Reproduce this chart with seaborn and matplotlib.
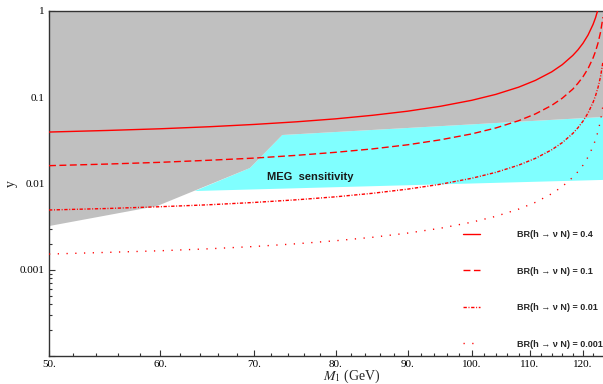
"""
Heavy neutrino Yukawa coupling y versus M1, with BR(h -> nu N) contours,
the excluded region (grey) and the MEG sensitivity band (cyan).
"""

import numpy as np
import pandas as pd
import matplotlib
matplotlib.use("Agg")
import matplotlib.pyplot as plt
from matplotlib.ticker import FixedLocator, NullFormatter, LogLocator
import seaborn as sns

m1 = [50, 55, 60, 65, 70, 75, 80, 85, 90, 95, 100, 104, 108, 111, 114,
      116, 118, 119, 120, 121, 122, 122.5, 123, 123.5, 124]

# y along each BR(h -> nu N) contour
y_br_04 = [0.0395, 0.0412, 0.0431, 0.0455, 0.0484, 0.0519, 0.0562, 0.0618,
           0.0689, 0.0786, 0.0922, 0.1079, 0.131, 0.157, 0.197, 0.239, 0.305,
           0.354, 0.423, 0.527, 0.700, 0.838, 1.05, 1.40, 2.10]
y_br_01 = [0.0161, 0.0168, 0.0176, 0.0186, 0.0197, 0.0212, 0.0230, 0.0252,
           0.0281, 0.0321, 0.0376, 0.0440, 0.0535, 0.0641, 0.0805, 0.0976,
           0.124, 0.145, 0.173, 0.215, 0.286, 0.342, 0.427, 0.568, 0.850]
y_br_001 = [0.00493, 0.00513, 0.00538, 0.00567, 0.00603, 0.00647, 0.00701,
            0.00770, 0.00860, 0.00980, 0.0115, 0.01345, 0.01633, 0.01958,
            0.0246, 0.0298, 0.0380, 0.0442, 0.0528, 0.0657, 0.0873, 0.1045,
            0.1304, 0.1735, 0.260]
y_br_0001 = [0.00152, 0.00159, 0.00166, 0.00175, 0.00186, 0.00200, 0.00217,
             0.00238, 0.00266, 0.00303, 0.00356, 0.00416, 0.00505, 0.00605,
             0.00761, 0.00922, 0.0118, 0.0137, 0.0163, 0.0203, 0.0270,
             0.0323, 0.0403, 0.0537, 0.0803]

br_labels = ["0.4", "0.1", "0.01", "0.001"]

# excluded (grey) region outline
excl_m1 = [50, 124, 124, 73.3, 69.5, 59.7, 50]
excl_y = [1.0, 1.0, 0.059, 0.0365, 0.0151, 0.00548, 0.00321]

# MEG sensitivity (cyan) band outline
meg_m1 = [63.5, 69.5, 73.3, 124, 124]
meg_y = [0.00818, 0.0151, 0.0365, 0.059, 0.0110]

x_ticks = [50, 60, 70, 80, 90, 100, 110, 120]
x_tick_labels = ["50.", "60.", "70.", "80.", "90.", "100.", "110.", "120."]
y_ticks = [1e-4, 1e-3, 1e-2, 1e-1, 1]
y_tick_labels = ["", "0.001", "0.01", "0.1", "1"]

# long-form table for seaborn
frames = []
for label, vals in zip(br_labels, [y_br_04, y_br_01, y_br_001, y_br_0001]):
    frames.append(pd.DataFrame({"M1": m1, "y": vals, "BR": label}))
df = pd.concat(frames, ignore_index=True)

sns.set_style("ticks")
plt.rcParams["font.family"] = ["Liberation Serif", "DejaVu Serif"]
plt.rcParams["mathtext.fontset"] = "stix"
plt.rcParams["xtick.direction"] = "in"
plt.rcParams["ytick.direction"] = "in"

fig = plt.figure(figsize=(6.03, 3.84), dpi=100)
ax = fig.add_axes([49 / 603, 28 / 384, 554 / 603, 345 / 384])

# shaded regions
ax.fill(meg_m1, meg_y, color="#80ffff", lw=0, zorder=1)
ax.fill(excl_m1, excl_y, color="#c0c0c0", lw=0, zorder=2)

dash_styles = {
    "0.4": "",
    "0.1": (5, 2.5),
    "0.01": (2.4, 1.2, 0.7, 1.2),
    "0.001": (0.9, 5.4),
}
sns.lineplot(data=df, x="M1", y="y", style="BR", style_order=br_labels,
             dashes=dash_styles, color="red", lw=1.0, estimator=None,
             sort=False, legend=False, ax=ax, zorder=3)

ax.set_xscale("log")
ax.set_yscale("log")
ax.set_xlim(50, 124)
ax.set_ylim(1e-4, 1)

ax.xaxis.set_major_locator(FixedLocator(x_ticks))
ax.set_xticklabels(x_tick_labels)
ax.xaxis.set_minor_locator(FixedLocator(np.arange(52, 124, 2)))
ax.xaxis.set_minor_formatter(NullFormatter())
ax.yaxis.set_major_locator(FixedLocator(y_ticks))
ax.set_yticklabels(y_tick_labels)
ax.yaxis.set_minor_locator(LogLocator(base=10, subs=np.arange(2, 10)))
ax.yaxis.set_minor_formatter(NullFormatter())

ax.tick_params(which="both", top=True, right=False, colors="#333333",
               labelcolor="black", labelsize=8, width=0.8)
ax.tick_params(which="major", length=4, pad=3)
ax.tick_params(which="minor", length=2)
for side in ["left", "bottom", "top"]:
    ax.spines[side].set_color("#333333")
    ax.spines[side].set_linewidth(1.0)
ax.spines["right"].set_visible(False)

ax.set_xlabel("$M_1$ (GeV)", fontsize=10)
ax.xaxis.set_label_coords(0.547, -0.034)
ax.xaxis.label.set_va("top")
ax.set_ylabel("y", fontsize=10)
ax.yaxis.set_label_coords(-0.057, 0.5)

ax.text(76.7, 0.0119, "MEG  sensitivity", fontsize=8, fontweight="bold",
        family=["Liberation Sans", "DejaVu Sans"], color="#1a1a1a",
        ha="center", va="center", zorder=4)

# legend laid out like the original, bottom right inside the axes
handles = ax.get_lines()[:4]
labels = [f"BR(h \u2192 \u03bd N) = {b}" for b in br_labels]
leg = ax.legend(handles, labels, loc="upper left",
                bbox_to_anchor=(463 / 603, 1 - 230 / 384),
                bbox_transform=fig.transFigure, frameon=False,
                borderpad=0, borderaxespad=0, handlelength=1.9,
                handletextpad=4.1, labelspacing=3.05,
                prop={"family": ["Liberation Sans", "DejaVu Sans"],
                      "weight": "bold", "size": 6.5})

fig.savefig("out.png", dpi=100)
